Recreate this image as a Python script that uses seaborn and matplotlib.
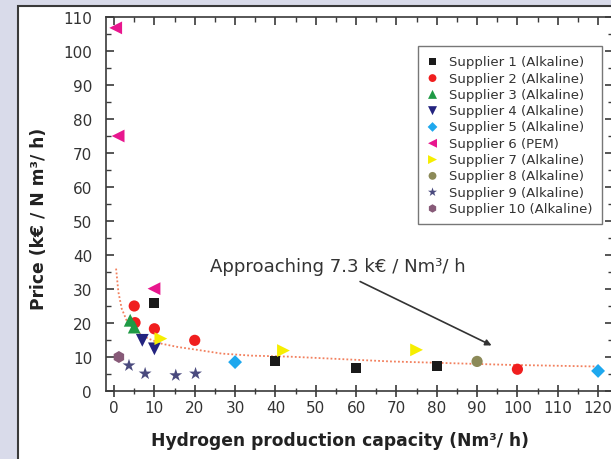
import matplotlib
matplotlib.use("Agg")
import matplotlib.pyplot as plt
from matplotlib.patches import Rectangle
from matplotlib.ticker import MultipleLocator
import numpy as np
import seaborn as sns
import pandas as pd

# ---- data ----
suppliers = ["Supplier 1 (Alkaline)", "Supplier 2 (Alkaline)", "Supplier 3 (Alkaline)",
             "Supplier 4 (Alkaline)", "Supplier 5 (Alkaline)", "Supplier 6 (PEM)",
             "Supplier 7 (Alkaline)", "Supplier 8 (Alkaline)", "Supplier 9 (Alkaline)",
             "Supplier 10 (Alkaline)"]
s1_x = [10, 40, 60, 80];            s1_y = [26, 8.9, 6.8, 7.4]
s2_x = [5, 5.2, 10, 20, 100];       s2_y = [25, 20.1, 18.3, 14.9, 6.4]
s3_x = [4, 5];                      s3_y = [20.8, 18.8]
s4_x = [7, 10];                     s4_y = [14.9, 12.4]
s5_x = [30, 120];                   s5_y = [8.5, 5.9]
s6_x = [0.4, 1, 9.9];               s6_y = [106.8, 75, 30.1]
s7_x = [11.6, 42, 75];              s7_y = [15.4, 11.9, 12.1]
s8_x = [90];                        s8_y = [8.7]
s9_x = [3.7, 7.7, 15.3, 20.2];      s9_y = [7.5, 5.1, 4.6, 5.1]
s10_x = [1.2];                      s10_y = [10]

fit_x = [0.5, 1.07, 1.9, 3.1, 5.6, 8.5, 11.8, 16, 20.1, 26.7, 34.1, 43.6, 68.4, 97.4, 120]
fit_y = [36, 29.1, 24.2, 20.8, 17.3, 15.4, 13.9, 12.9, 12.2, 11.0, 10.4, 10.1, 8.7, 7.7, 7.2]

annotation = "Approaching 7.3 k\u20ac / Nm\u00b3/ h"
x_label = "Hydrogen production capacity (Nm\u00b3/ h)"
y_label = "Price (k\u20ac / N m\u00b3/ h)"

xs = [s1_x, s2_x, s3_x, s4_x, s5_x, s6_x, s7_x, s8_x, s9_x, s10_x]
ys = [s1_y, s2_y, s3_y, s4_y, s5_y, s6_y, s7_y, s8_y, s9_y, s10_y]
markers = ["s", "o", "^", "v", "D", "<", ">", "o", "*", "h"]
colors = ["#1a1a1a", "#f01e1e", "#1f9a45", "#23237f", "#1ea8ee", "#e8168e",
          "#f6ee00", "#8c8a58", "#4a4a7e", "#875a78"]
sizes = [50, 65, 85, 85, 50, 85, 85, 65, 95, 75]

rows = []
for name, xx, yy in zip(suppliers, xs, ys):
    for a, b in zip(xx, yy):
        rows.append({"supplier": name, "x": a, "y": b})
df = pd.DataFrame(rows)
fit_df = pd.DataFrame({"x": fit_x, "y": fit_y})

sns.set_theme(style="ticks")
plt.rcParams["font.family"] = ["DejaVu Sans"]

fig = plt.figure(figsize=(6.11, 4.6), dpi=100)
fig.patch.set_facecolor("#d9dbea")
fig.add_artist(Rectangle((17.5 / 611, -0.05), 1.2, (460 - 6.5) / 460 + 0.05,
                         transform=fig.transFigure, facecolor="white",
                         edgecolor="#3a3a3a", lw=1.5, zorder=-5))

ax_left, ax_right = 106, 613
pos = [ax_left / 611, 68 / 460, (ax_right - ax_left) / 611, (392 - 18) / 460]
ax = fig.add_axes(pos)
ax.set_facecolor("white")

sns.lineplot(data=fit_df, x="x", y="y", ax=ax, color="#f2805e", lw=1.3,
             linestyle=(0, (1, 1.2)), zorder=1)

for name, m, c, s in zip(suppliers, markers, colors, sizes):
    sub = df[df["supplier"] == name]
    sns.scatterplot(data=sub, x="x", y="y", ax=ax, marker=m, color=c, s=s,
                    edgecolor="none", label=name, zorder=3)

xlim = (-2.0, 123.7)
ax.set_xlim(*xlim)
ax.set_ylim(0, 110)
ax.xaxis.set_major_locator(MultipleLocator(10))
ax.xaxis.set_minor_locator(MultipleLocator(5))
ax.yaxis.set_major_locator(MultipleLocator(10))
ax.yaxis.set_minor_locator(MultipleLocator(5))
ax.tick_params(axis="x", which="major", direction="inout", length=9, width=1.2,
               colors="#3a3a3a", labelcolor="#333333", labelsize=11, pad=2,
               bottom=True, top=False)
ax.tick_params(axis="x", which="minor", direction="inout", length=5, width=1.0,
               colors="#3a3a3a", bottom=True, top=False)
ax.tick_params(axis="y", which="major", direction="in", length=6, width=1.2,
               colors="#3a3a3a", labelcolor="#333333", labelsize=11,
               left=True, right=True, pad=10)
ax.tick_params(axis="y", which="minor", direction="in", length=3.5, width=1.0,
               colors="#3a3a3a", left=True, right=True)
for sp in ax.spines.values():
    sp.set_visible(True)
    sp.set_color("#3a3a3a")
    sp.set_linewidth(1.2)

# inward tick marks along the top spine, at the axis' own locator positions
tr = ax.get_xaxis_transform()
maj = [v for v in ax.xaxis.get_major_locator().tick_values(*xlim) if xlim[0] <= v <= xlim[1]]
mnr = [v for v in ax.xaxis.get_minor_locator().tick_values(*xlim)
       if xlim[0] <= v <= xlim[1] and v not in maj]
ax.vlines(maj, 1 - 8 / 374, 1, transform=tr, colors="#3a3a3a", lw=1.2, clip_on=False, zorder=5)
ax.vlines(mnr, 1 - 5 / 374, 1, transform=tr, colors="#3a3a3a", lw=1.0, clip_on=False, zorder=5)

ax.set_xlabel(x_label, fontsize=12.3, fontweight="bold", color="#222222")
ax.set_ylabel(y_label, fontsize=12.3, fontweight="bold", color="#222222")
ax.xaxis.set_label_coords((340 - ax_left) / (ax_right - ax_left), -0.107)
ax.yaxis.set_label_coords((48 - ax_left) / (ax_right - ax_left), 0.4626)

ax.annotate("", xy=(93.6, 13.4), xytext=(61, 32.2),
            arrowprops=dict(arrowstyle="-|>", color="#333333", lw=1.2,
                            mutation_scale=9, shrinkA=0, shrinkB=0))
ax.text(23.8, 36.9, annotation, fontsize=13.1, color="#333333", va="center", ha="left")

leg = ax.legend(loc="upper left",
                bbox_to_anchor=((418 - ax_left) / (ax_right - ax_left), (392 - 47) / 374),
                frameon=True, fancybox=False, fontsize=9.5, markerscale=0.7,
                handletextpad=0.85, labelspacing=0.25, borderpad=0.7,
                handlelength=0.8, borderaxespad=0)
leg.get_frame().set_edgecolor("#555555")
leg.get_frame().set_linewidth(1.0)
for t in leg.get_texts():
    t.set_color("#333333")

fig.savefig("out.png", dpi=100, facecolor=fig.get_facecolor())
